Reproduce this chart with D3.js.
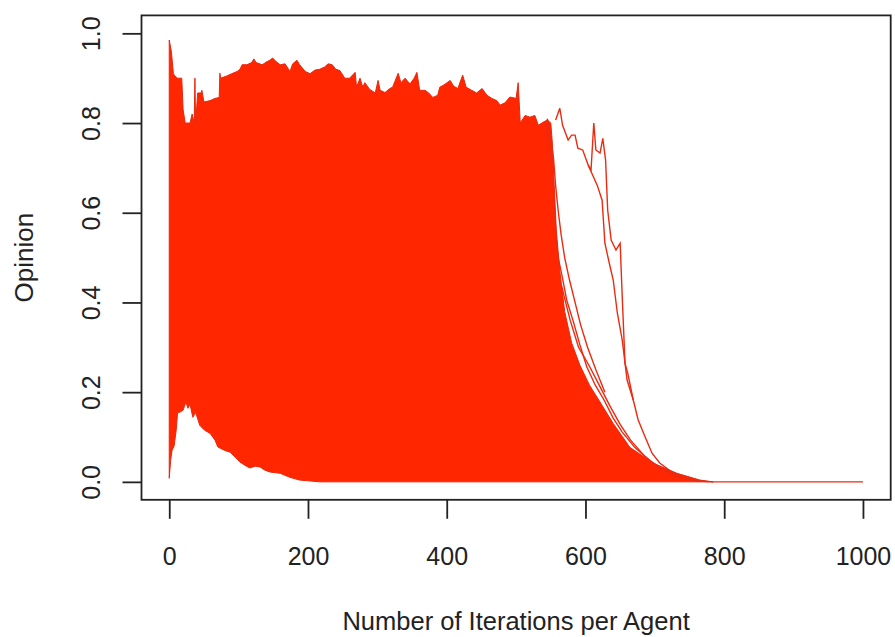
<!DOCTYPE html>
<html>
<head>
<meta charset="utf-8">
<script src="https://cdn.jsdelivr.net/npm/d3@7"></script>
<style>
  body { margin: 0; background: #fff; }
  svg { display: block; }
  text { font-family: "Liberation Sans", Arial, Helvetica, sans-serif; fill: #222; }
</style>
</head>
<body>
<svg id="opinion-chart" width="895" height="637"></svg>
<script>
// Values: [iteration, opinion]
const upperEnvelope = [
  [0,0.985],[3,0.96],[6,0.91],[8,0.905],[12,0.9],[18,0.9],[20,0.83],[23,0.8],[30,0.8],[33,0.82],
  [36,0.8],[37,0.9],[38,0.8],[41,0.867],[46,0.867],[47,0.873],[50,0.847],[59,0.85],[66,0.855],[72,0.857],
  [73,0.911],[74,0.9],[83,0.905],[90,0.91],[98,0.915],[102,0.92],[105,0.93],[112,0.93],[119,0.935],[122,0.943],
  [125,0.935],[134,0.93],[141,0.937],[145,0.94],[149,0.945],[154,0.937],[160,0.93],[167,0.932],[174,0.915],[178,0.932],
  [184,0.94],[188,0.93],[196,0.915],[203,0.91],[210,0.918],[217,0.92],[224,0.925],[229,0.932],[235,0.93],[240,0.92],
  [246,0.917],[253,0.9],[260,0.9],[268,0.913],[270,0.88],[275,0.9],[279,0.88],[282,0.89],[289,0.875],[297,0.867],
  [301,0.895],[304,0.873],[311,0.868],[318,0.877],[322,0.88],[330,0.911],[334,0.89],[340,0.9],[347,0.887],[353,0.9],
  [357,0.913],[361,0.873],[369,0.873],[374,0.867],[380,0.857],[387,0.862],[390,0.88],[396,0.885],[405,0.895],[410,0.882],
  [416,0.877],[423,0.907],[428,0.88],[436,0.873],[443,0.867],[451,0.877],[458,0.862],[465,0.855],[472,0.85],[477,0.84],
  [484,0.845],[491,0.858],[500,0.855],[503,0.89],[506,0.8],[513,0.817],[520,0.813],[527,0.817],[532,0.795],[537,0.8],
  [545,0.807],[550,0.8]
];

const massRightEdge = [
  [552,0.76],[555,0.66],[558,0.56],[563,0.47],[570,0.38],[580,0.31],[592,0.26],[606,0.215],[621,0.178],
  [640,0.13],[664,0.077],[697,0.042],[732,0.019],[765,0.004],[784,0]
];

const lowerEnvelope = [
  [0,0.008],[2,0.048],[4,0.07],[7,0.08],[10,0.115],[12,0.154],[15,0.155],[20,0.16],[24,0.178],[27,0.164],
  [30,0.173],[34,0.144],[38,0.155],[44,0.126],[51,0.115],[59,0.108],[66,0.093],[70,0.078],[80,0.07],[88,0.066],
  [95,0.055],[102,0.044],[109,0.037],[116,0.031],[124,0.035],[131,0.033],[138,0.026],[145,0.022],[160,0.019],[174,0.01],
  [188,0.004],[217,0]
];

// the last agents to converge
const agentA = [
  [557,0.807],[563,0.833],[567,0.795],[575,0.762],[580,0.773],[585,0.773],[589,0.744],[596,0.74],[604,0.706],[608,0.695],
  [612,0.8],[615,0.74],[621,0.733],[625,0.766],[629,0.717],[632,0.606],[637,0.539],[644,0.517],[650,0.532],[653,0.412],
  [657,0.264],[661,0.242],[669,0.182],[676,0.138],[686,0.1],[696,0.064],[707,0.042],[726,0.02],[750,0.004],[779,0]
];
const agentB = [
  [604,0.706],[617,0.661],[624,0.628],[628,0.532],[635,0.483],[640,0.45],[646,0.376],[653,0.316],[660,0.227],[669,0.182]
];
const agentC = [
  [542,0.8],[549,0.74],[553,0.672],[557,0.56],[560,0.505],[566,0.461],[573,0.405],[582,0.36],[592,0.305],[602,0.256],
  [614,0.216],[627,0.182],[640,0.142],[653,0.111],[671,0.077],[692,0.048],[714,0.026],[743,0.008],[765,0.001]
];
const agentD = [
  [565,0.44],[578,0.36],[590,0.3],[605,0.26],[620,0.215],[635,0.17],[650,0.128],[665,0.093],[685,0.058],[705,0.032],
  [730,0.014],[760,0.003]
];
const agentE = [
  [545,0.81],[550,0.77],[554,0.72],[557,0.66],[561,0.6],[565,0.55],[570,0.5],[577,0.45],[585,0.4],[593,0.35],
  [603,0.3],[615,0.25],[628,0.2]
];
const settled = [[780,0],[1000,0]];

const xTicks = [0, 200, 400, 600, 800, 1000];
const yTicks = [0, 0.2, 0.4, 0.6, 0.8, 1.0];

function drawOpinionChart() {
    const svg = d3.select("#opinion-chart");
    const red = "#ff2600";

    // 1. Plot region (R style, 4% padding on both axes)
    const box = { left: 141.5, right: 890.7, top: 15.4, bottom: 499.8 };

    const x = d3.scaleLinear().domain([-40, 1040]).range([box.left, box.right]);
    const y = d3.scaleLinear().domain([-0.04, 1.04]).range([box.bottom, box.top]);

    const line = d3.line().x(d => x(d[0])).y(d => y(d[1]));

    // 2. Dense mass of agent trajectories
    const outline = upperEnvelope.concat(massRightEdge, lowerEnvelope.slice().reverse());
    svg.append("path")
        .attr("d", line(outline) + "Z")
        .attr("fill", red)
        .attr("stroke", "#e8280e")
        .attr("stroke-width", 1);

    // 3. Individual late trajectories
    [agentA, agentB, agentC, agentD, agentE, settled].forEach(series => {
        svg.append("path")
            .attr("d", line(series))
            .attr("fill", "none")
            .attr("stroke", "#ec2a10")
            .attr("stroke-width", 1.4);
    });

    // 4. Box
    svg.append("rect")
        .attr("x", box.left)
        .attr("y", box.top)
        .attr("width", box.right - box.left)
        .attr("height", box.bottom - box.top)
        .attr("fill", "none")
        .attr("stroke", "#222")
        .attr("stroke-width", 1.8);

    // 5. X axis
    const xAxis = svg.append("g")
        .attr("transform", `translate(0,${box.bottom})`)
        .call(d3.axisBottom(x).tickValues(xTicks).tickSize(19).tickPadding(28.5).tickFormat(d3.format("d")));
    xAxis.select(".domain").remove();
    xAxis.selectAll("line").attr("stroke", "#222").attr("stroke-width", 1.8);
    xAxis.selectAll("text").style("font-size", "25px").attr("fill", "#222");

    // 6. Y axis (labels parallel to axis)
    const yAxis = svg.append("g")
        .attr("transform", `translate(${box.left},0)`)
        .call(d3.axisLeft(y).tickValues(yTicks).tickSize(19).tickFormat(d3.format(".1f")));
    yAxis.select(".domain").remove();
    yAxis.selectAll("line").attr("stroke", "#222").attr("stroke-width", 1.8);
    yAxis.selectAll("text")
        .attr("x", null).attr("dy", null)
        .attr("text-anchor", "middle")
        .attr("transform", `translate(${100 - box.left},0) rotate(-90)`)
        .style("font-size", "25px")
        .attr("fill", "#222");

    // 7. Axis titles
    svg.append("text")
        .attr("x", (box.left + box.right) / 2)
        .attr("y", 630)
        .attr("text-anchor", "middle")
        .style("font-size", "25.5px")
        .text("Number of Iterations per Agent");

    svg.append("text")
        .attr("transform", `translate(33,${(box.top + box.bottom) / 2}) rotate(-90)`)
        .attr("text-anchor", "middle")
        .style("font-size", "26px")
        .text("Opinion");
}

drawOpinionChart();
</script>
</body>
</html>
